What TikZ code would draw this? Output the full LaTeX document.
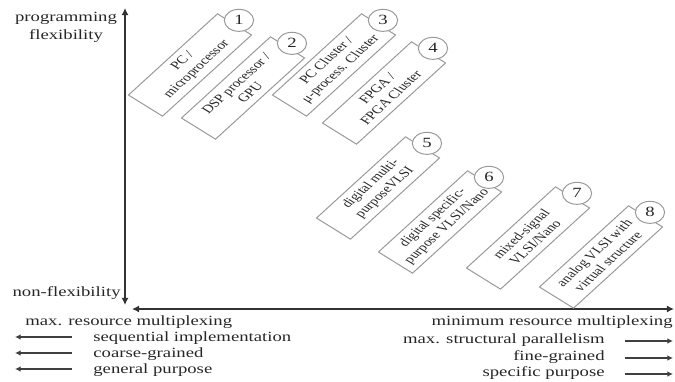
\documentclass[tikz,border=0pt]{standalone}
\usepackage{fontspec}
\setmainfont{Liberation Serif}
\usetikzlibrary{arrows.meta,calc}

\begin{document}
\begin{tikzpicture}[x=0.025cm, y=-0.025cm,
    axis/.style={draw=black!80, line width=1.2pt,
                 {Latex[length=5pt,width=5pt]}-{Latex[length=5pt,width=5pt]}},
    hint/.style={draw=black!75, line width=0.8pt, -{Latex[length=4pt,width=4pt]}},
    techbox/.style={rectangle, draw=black!40, fill=white, line width=0.7pt,
                    xscale=1.33, rotate=50.5, minimum width=2.63cm, minimum height=0.83cm,
                    inner sep=1pt, align=center, text=black!85,
                    font=\fontsize{8.2}{9.6}\selectfont},
    num/.style={circle, draw=black!40, fill=white, line width=0.7pt, xscale=1.33,
                minimum size=0.55cm, inner sep=0pt, text=black!85,
                font=\fontsize{10}{12}\selectfont},
    lbl/.style={xscale=1.33, inner sep=0pt, text=black!85,
                font=\fontsize{10}{12}\selectfont}
  ]
  \useasboundingbox (0,0) rectangle (675,381);

  % axes
  \coordinate (ytop)   at (125,8);
  \coordinate (ybot)   at (125,305);
  \coordinate (xleft)  at (132,309);
  \coordinate (xright) at (674,309);
  \draw[axis] (ybot) -- (ytop);
  \draw[axis] (xleft) -- (xright);

  \node[lbl, align=center, font=\fontsize{10}{12.8}\selectfont] (progflex) at (66,27)
    {programming\\flexibility};
  \node[lbl, anchor=east] (nonflex) at (121,293) {non-flexibility};

  % implementation platforms
  \node[techbox] (pc)   at (190,65)  {PC /\\microprocessor};
  \node[techbox] (dsp)  at (243,88)  {DSP processor /\\GPU};
  \node[techbox] (clu)  at (334,65)  {PC Cluster /\\μ-process. Cluster};
  \node[techbox] (fpga) at (384,93)  {FPGA /\\FPGA Cluster};
  \node[techbox] (dmp)  at (378,188) {digital multi-\\purposeVLSI};
  \node[techbox] (dsv)  at (440,222) {digital specific-\\purpose VLSI/Nano};
  \node[techbox] (mix)  at (528,238) {mixed-signal\\VLSI/Nano};
  \node[techbox] (ana)  at (601,257) {analog VLSI with\\virtual structure};

  \foreach \b/\n in {pc/1, dsp/2, clu/3, fpga/4, dmp/5, dsv/6, mix/7, ana/8}
    \node[num] (n\n) at ($(\b.center)!1.09!(\b.east)$) {\n};

  % left side
  \node[lbl, anchor=west] (maxmux) at (25,322) {max. resource multiplexing};
  \node[lbl, anchor=west] (seq)    at (93,338) {sequential implementation};
  \node[lbl, anchor=west] (coarse) at (93,354) {coarse-grained};
  \node[lbl, anchor=west] (gen)    at (93,370) {general purpose};
  \foreach \t in {seq, coarse, gen}
    \draw[hint] (\t.west) +(-21,-1) -- +(-78,-1);

  % right side
  \node[lbl, anchor=east] (minmux) at (673,322) {minimum resource multiplexing};
  \node[lbl, anchor=east] (par)    at (605,340) {max. structural parallelism};
  \node[lbl, anchor=east] (fine)   at (605,357) {fine-grained};
  \node[lbl, anchor=east] (spec)   at (605,373) {specific purpose};
  \foreach \t in {par, fine, spec}
    \draw[hint] (\t.east) +(20,1) -- +(68,1);
\end{tikzpicture}
\end{document}
